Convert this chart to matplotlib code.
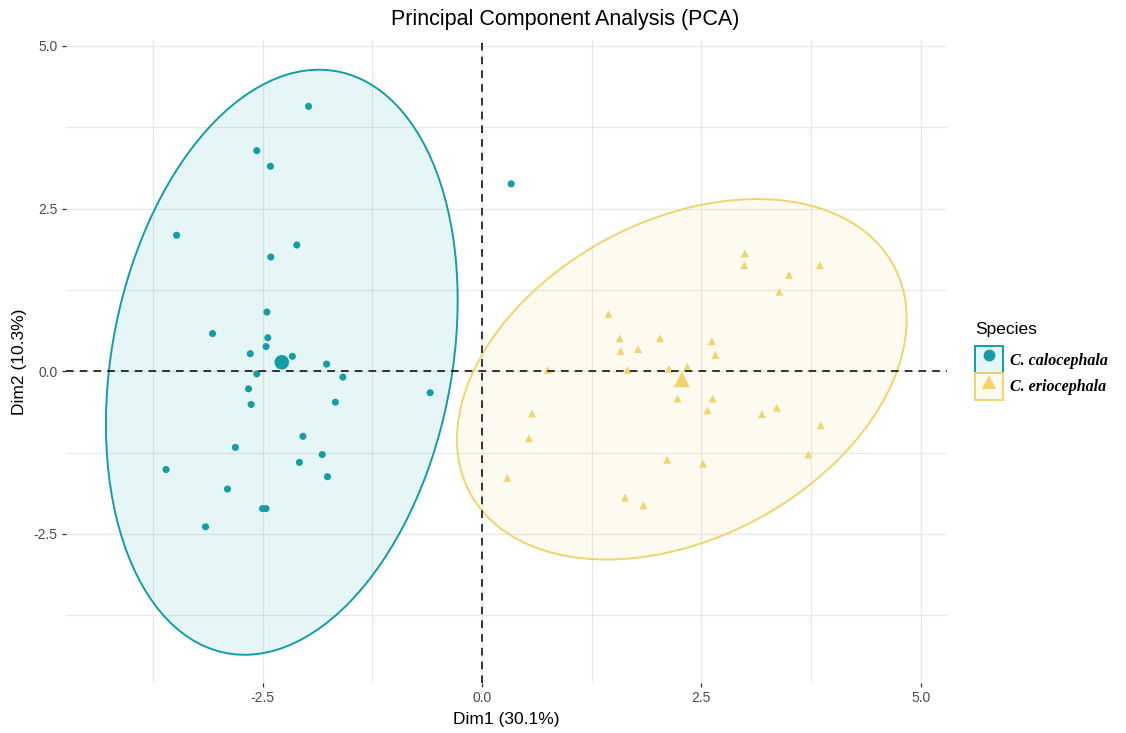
import numpy as np
import matplotlib
matplotlib.use("Agg")
import matplotlib.pyplot as plt
from matplotlib.patches import Polygon, Patch
from matplotlib.lines import Line2D
from matplotlib.legend_handler import HandlerTuple
from matplotlib.font_manager import FontProperties

# ---- PCA individual scores (Dim1, Dim2) by species ----
species = ["C. calocephala", "C. eriocephala"]

calo_dim1 = [-1.976, -2.566, -2.41, -3.48, -2.11, -2.406, -2.45, -3.07, -2.44,
             -2.46, -2.64, -2.16, -1.77, -2.566, -1.585, -0.59, -2.66, -2.63,
             -1.67, -2.04, -2.81, -1.82, -2.08, -1.76, -3.60, -2.90, -2.50,
             -2.46, -3.15, 0.334]
calo_dim2 = [4.07, 3.39, 3.15, 2.09, 1.94, 1.755, 0.91, 0.58, 0.515,
             0.38, 0.27, 0.23, 0.11, -0.04, -0.09, -0.33, -0.27, -0.51,
             -0.475, -1.00, -1.17, -1.28, -1.40, -1.62, -1.51, -1.81, -2.11,
             -2.11, -2.39, 2.88]

erio_dim1 = [2.995, 2.99, 3.85, 3.50, 3.39, 1.44, 1.57, 2.03, 2.62, 1.58,
             1.78, 2.66, 0.75, 1.66, 2.13, 2.34, 2.23, 2.63, 2.57, 3.19,
             3.36, 0.57, 0.536, 3.86, 2.11, 2.52, 3.72, 0.29, 1.63, 1.84]
erio_dim2 = [1.81, 1.63, 1.63, 1.48, 1.22, 0.88, 0.505, 0.505, 0.46, 0.31,
             0.34, 0.25, 0.02, 0.02, 0.035, 0.07, -0.42, -0.42, -0.60, -0.66,
             -0.56, -0.65, -1.03, -0.83, -1.36, -1.42, -1.28, -1.64, -1.94, -2.06]

explained = [30.1, 10.3]          # % variance of Dim1, Dim2
axis_ticks = [-2.5, 0.0, 2.5, 5.0]
minor_ticks = [-3.75, -1.25, 1.25, 3.75]

colors = ["#139DA6", "#F3D36C"]
markers = ["o", "^"]

groups = [(calo_dim1, calo_dim2), (erio_dim1, erio_dim2)]


def norm_ellipse(x, y, level=0.95, segments=121):
    """Multivariate-normal confidence ellipse (as in ggplot2 stat_ellipse type='norm')."""
    pts = np.column_stack([x, y])
    n = len(pts)
    center = pts.mean(axis=0)
    cov = np.cov(pts, rowvar=False)
    chol = np.linalg.cholesky(cov).T
    dfd = n - 1
    qf = dfd / 2.0 * ((1 - level) ** (-2.0 / dfd) - 1)
    radius = np.sqrt(2 * qf)
    ang = np.linspace(0, 2 * np.pi, segments)
    circle = np.column_stack([np.cos(ang), np.sin(ang)])
    return center + radius * circle @ chol


fig = plt.figure(figsize=(11.26, 7.33), dpi=100)
ax = fig.add_axes([66 / 1126, 1 - 683 / 733, (947 - 66) / 1126, (683 - 40) / 733])

sans = "Liberation Sans"

for (gx, gy), col, mk in zip(groups, colors, markers):
    ell = norm_ellipse(gx, gy)
    ax.add_patch(Polygon(ell, closed=True, facecolor=col, alpha=0.1,
                         edgecolor="none", zorder=1))
    ax.add_patch(Polygon(ell, closed=True, facecolor="none",
                         edgecolor=col, lw=1.4, zorder=2))
    ax.scatter(gx, gy, s=26 if mk == "o" else 32, marker=mk, color=col,
               edgecolors="none", zorder=3)
    ax.scatter([np.mean(gx)], [np.mean(gy)], s=110 if mk == "o" else 130,
               marker=mk, color=col, edgecolors="none", zorder=3)

ax.axhline(0, color="black", lw=1.1, ls=(0, (5, 4)), zorder=4)
ax.axvline(0, color="black", lw=1.1, ls=(0, (5, 4)), zorder=4)

ax.set_xlim(-4.74, 5.30)
ax.set_ylim(-4.79, 5.09)
ax.set_xticks(axis_ticks)
ax.set_yticks(axis_ticks)
ax.set_xticks(minor_ticks, minor=True)
ax.set_yticks(minor_ticks, minor=True)
ax.set_xticklabels([f"{t:.1f}" for t in axis_ticks])
ax.set_yticklabels([f"{t:.1f}" for t in axis_ticks])
ax.grid(which="both", color="#E8E8E8", lw=0.9, zorder=0)
ax.set_axisbelow(True)
for sp in ax.spines.values():
    sp.set_visible(False)
ax.tick_params(which="major", length=3, width=0.9, color="#333333",
               labelcolor="#4D4D4D", labelsize=10, pad=3)
ax.tick_params(which="minor", length=0)
for lab in ax.get_xticklabels() + ax.get_yticklabels():
    lab.set_fontfamily(sans)

ax.set_xlabel(f"Dim1 ({explained[0]}%)", fontsize=12.5, family=sans, labelpad=5)
ax.set_ylabel(f"Dim2 ({explained[1]}%)", fontsize=12.5, family=sans, labelpad=5)
fig.text(0.502, 1 - 20 / 733, "Principal Component Analysis (PCA)",
         ha="center", va="center", fontsize=15.5, family=sans)

# Legend: title drawn separately so it sits a little above the keys
fig.text(975 / 1126, 1 - 329 / 733, "Species", ha="left", va="center",
         fontsize=12.5, family=sans)

handles = []
for col, mk in zip(colors, markers):
    box = Patch(facecolor=(*matplotlib.colors.to_rgb(col), 0.1),
                edgecolor=col, lw=1.4)
    pt = Line2D([], [], marker=mk, color=col, ls="", ms=8.5 if mk == "o" else 9.5,
                markeredgewidth=0)
    handles.append((box, pt))

leg = fig.legend(handles, species, handler_map={tuple: HandlerTuple(ndivide=1)},
                 loc="center left", bbox_to_anchor=(975 / 1126, 1 - 373 / 733),
                 frameon=False, handlelength=1.75, handleheight=2.2,
                 labelspacing=0.0, handletextpad=0.45, borderaxespad=0,
                 borderpad=0,
                 prop=FontProperties(family="Liberation Serif", style="italic",
                                     weight="bold", size=11.5))

fig.savefig("out.png", dpi=100, facecolor="white")
